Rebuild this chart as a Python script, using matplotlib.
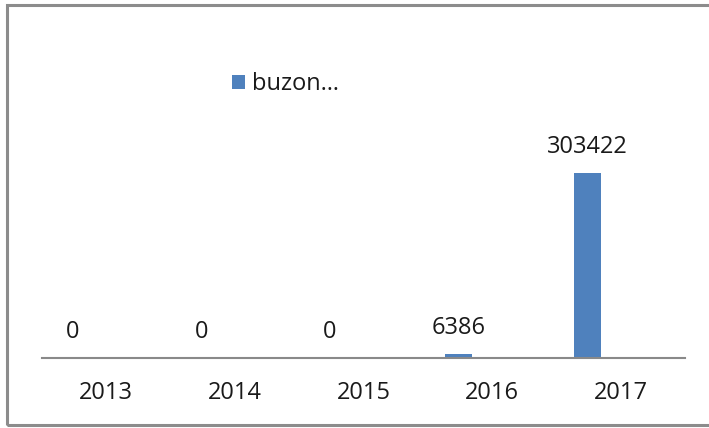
import matplotlib
matplotlib.use("Agg")
import matplotlib.pyplot as plt
from matplotlib.patches import Rectangle
import numpy as np

years = ["2013", "2014", "2015", "2016", "2017"]
values = [0, 0, 0, 6386, 303422]
series_name = "buzon…"

W, H = 709, 428
fig = plt.figure(figsize=(W / 100, H / 100), dpi=100)
plt.rcParams['font.family'] = ['Open Sans', 'DejaVu Sans']

# axes in pixel coordinates
x0, x1 = 42, 685
yb, yt = 357.5, 144.7
ax = fig.add_axes([x0 / W, 1 - yb / H, (x1 - x0) / W, (yb - yt) / H])

x = np.arange(len(years))
offset = -0.26
width = 0.21
bars = ax.bar(x + offset, values, width=width, color="#4F81BD", label=series_name, zorder=2)

for xi, v in zip(x, values):
    ax.annotate(str(v), (xi + offset, v), xytext=(0, 14.4), textcoords="offset points",
                ha="center", va="baseline", fontsize=17, color="#1a1a1a", annotation_clip=False)

ax.set_xlim(-0.5, len(years) - 0.5)
ax.set_ylim(0, 350000)
ax.set_xticks(x)
ax.set_xticklabels(years, fontsize=17, color="#1a1a1a")
ax.tick_params(axis="x", length=0, pad=17)
ax.set_yticks([])
for s in ["top", "right", "left"]:
    ax.spines[s].set_visible(False)
ax.spines["bottom"].set_color("#898989")
ax.spines["bottom"].set_linewidth(1.5)
ax.patch.set_alpha(0)

leg = fig.legend(loc="center left", bbox_to_anchor=(232 / W, 1 - 84 / H), frameon=False,
                 fontsize=17, handlelength=0.55, handleheight=0.55, handletextpad=0.3,
                 borderpad=0, borderaxespad=0)
for t in leg.get_texts():
    t.set_color("#1a1a1a")

# outer border
fig.patches.append(Rectangle((7 / W, 1 - 425 / H), (W + 10 - 7) / W, (425 - 5) / H,
                             transform=fig.transFigure, fill=False, edgecolor="#8c8c8c",
                             linewidth=2.2, clip_on=False))

fig.savefig("out.png", dpi=100)
